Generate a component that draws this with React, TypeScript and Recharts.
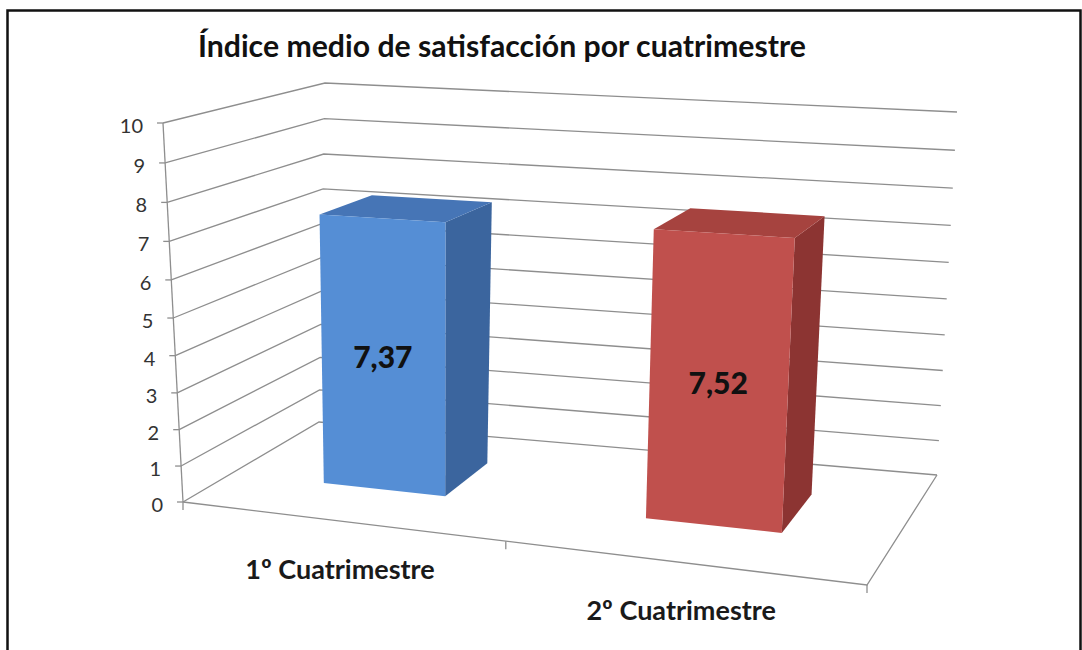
import React from "react";
import {
  BarChart,
  Bar,
  XAxis,
  YAxis,
  CartesianGrid,
  LabelList,
} from "recharts";

// datos
const CATEGORIES = ["1º Cuatrimestre", "2º Cuatrimestre"];
const VALUES = [7.37, 7.52];
const Y_TICKS = [0, 1, 2, 3, 4, 5, 6, 7, 8, 9, 10];
const TITLE = "Índice medio de satisfacción por cuatrimestre";

const data = CATEGORIES.map((name, i) => ({ name, value: VALUES[i] }));

const W = 1082;
const H = 650;
const Y_AXIS_W = 40;
const X_AXIS_H = 30;
// el area de trazado queda en x 100..982, y 100..550
const MARGIN = { top: 100, right: 100, bottom: 100 - X_AXIS_H, left: 100 - Y_AXIS_W };
const PLOT = { x: 100, y: 100, w: W - 200, h: H - 200 };

const FONT = "Lato, 'Open Sans', sans-serif";
const LINE = "#8e8e8e";

// colores de las caras (frontal, lateral, superior)
const FACES = [
  { front: "#558ed5", side: "#3b659e", top: "#4675b6" },
  { front: "#c0504d", side: "#8c3432", top: "#a6433f" },
];

// esquinas de la "caja" 3D en pantalla (camara), frente / fondo
type Pt = [number, number];
const F00: Pt = [183, 502];
const F01: Pt = [163, 123];
const F10: Pt = [867, 585];
const F11: Pt = [892, 156];
const B00: Pt = [319, 422];
const B01: Pt = [325, 83];
const B10: Pt = [937, 475];
const B11: Pt = [957, 112];
const BAR_D0 = 0.363;
const BAR_D1 = 0.73;

const warp = (t: number, k: number) => t / (t + k * (1 - t));

const bil = (a: Pt, b: Pt, c: Pt, d: Pt, u: number, h: number): Pt => {
  const w00 = (1 - u) * (1 - h);
  const w01 = (1 - u) * h;
  const w10 = u * (1 - h);
  const w11 = u * h;
  return [
    a[0] * w00 + b[0] * w01 + c[0] * w10 + d[0] * w11,
    a[1] * w00 + b[1] * w01 + c[1] * w10 + d[1] * w11,
  ];
};

// proyeccion: u (0..1 horizontal), h (0..1 altura), d (0 frente .. 1 fondo)
const project = (u: number, h: number, d: number): Pt => {
  const uu = warp(u, 1.119);
  const hh = warp(h, 1.06);
  const f = bil(F00, F01, F10, F11, uu, hh);
  const b = bil(B00, B01, B10, B11, uu, hh);
  return [f[0] * (1 - d) + b[0] * d, f[1] * (1 - d) + b[1] * d];
};

const toU = (x: number) => (x - PLOT.x) / PLOT.w;
const toH = (y: number) => (PLOT.y + PLOT.h - y) / PLOT.h;
const pts = (list: Pt[]) => list.map((p) => `${p[0]},${p[1]}`).join(" ");

// caja 3D de cada barra
const BoxShape = (props: any) => {
  const { x, y, width, index } = props;
  const u0 = toU(x);
  const u1 = toU(x + width);
  const h = toH(y);
  const c = FACES[index % FACES.length];
  const front = [project(u0, 0, BAR_D0), project(u1, 0, BAR_D0), project(u1, h, BAR_D0), project(u0, h, BAR_D0)];
  const top = [project(u0, h, BAR_D0), project(u1, h, BAR_D0), project(u1, h, BAR_D1), project(u0, h, BAR_D1)];
  const side = [project(u1, 0, BAR_D0), project(u1, 0, BAR_D1), project(u1, h, BAR_D1), project(u1, h, BAR_D0)];
  return (
    <g>
      <polygon points={pts(side)} fill={c.side} />
      <polygon points={pts(top)} fill={c.top} />
      <polygon points={pts(front)} fill={c.front} />
    </g>
  );
};

const ValueLabel = (props: any) => {
  const { x, y, width, value } = props;
  const u = toU(x + width / 2);
  const h = toH(y);
  const p = project(u, h / 2, BAR_D0);
  return (
    <text
      x={p[0]}
      y={p[1] + 11}
      textAnchor="middle"
      fontFamily={FONT}
      fontWeight={900}
      fontSize={30}
      fill="#111"
    >
      {Number(value).toFixed(2).replace(".", ",")}
    </text>
  );
};

// lineas de division: pared lateral + pared del fondo (+ suelo en el 0)
const GridLine = (props: any) => {
  const h = toH(props.y1);
  const a = project(0, h, 0);
  const b = project(0, h, 1);
  const c = project(1, h, 1);
  const isFloor = Math.abs(h) < 1e-6;
  return (
    <g key={props.key ?? `grid-${props.index}`}>
      <polyline points={pts([a, b, c])} fill="none" stroke={LINE} strokeWidth={1.3} />
      {isFloor && (
        <g>
          <polyline
            points={pts([project(0, 0, 0), project(1, 0, 0), project(1, 0, 1)])}
            fill="none"
            stroke={LINE}
            strokeWidth={1.3}
          />
          <line
            x1={project(0, 0, 0)[0]}
            y1={project(0, 0, 0)[1]}
            x2={project(0, 1, 0)[0]}
            y2={project(0, 1, 0)[1]}
            stroke={LINE}
            strokeWidth={1.3}
          />
          {Array.from({ length: CATEGORIES.length + 1 }, (_, i) => {
            const p = project(i / CATEGORIES.length, 0, 0);
            return (
              <line key={i} x1={p[0]} y1={p[1]} x2={p[0]} y2={p[1] + 8} stroke={LINE} strokeWidth={1.3} />
            );
          })}
        </g>
      )}
    </g>
  );
};

const YTick = (props: any) => {
  const { y, payload } = props;
  const p = project(0, toH(y), 0);
  return (
    <g>
      <line x1={p[0] - 6} y1={p[1]} x2={p[0]} y2={p[1]} stroke={LINE} strokeWidth={1.3} />
      <text
        x={p[0] - 20}
        y={p[1] + 10}
        textAnchor="end"
        fontFamily={FONT}
        fontSize={20}
        fill="#333"
      >
        {payload.value}
      </text>
    </g>
  );
};

const XTick = (props: any) => {
  const { x, payload } = props;
  const p = project(toU(x), 0, 0);
  return (
    <text
      x={p[0]}
      y={p[1] + 58}
      textAnchor="middle"
      fontFamily={FONT}
      fontWeight="bold"
      fontSize={27}
      fill="#1a1a1a"
    >
      {payload.value}
    </text>
  );
};

export default function App() {
  return (
    <div style={{ position: "absolute", left: 0, top: 0, width: W, height: H, background: "#fff" }}>
      <BarChart width={W} height={H} data={data} margin={MARGIN} barCategoryGap="30.5%">
        <CartesianGrid vertical={false} horizontal={GridLine} />
        <XAxis
          dataKey="name"
          height={X_AXIS_H}
          axisLine={false}
          tickLine={false}
          interval={0}
          tick={<XTick />}
        />
        <YAxis
          type="number"
          domain={[0, 10]}
          ticks={Y_TICKS}
          width={Y_AXIS_W}
          axisLine={false}
          tickLine={false}
          interval={0}
          tick={<YTick />}
        />
        <Bar dataKey="value" isAnimationActive={false} shape={<BoxShape />}>
          <LabelList dataKey="value" content={<ValueLabel />} />
        </Bar>
      </BarChart>
      <svg
        width={W}
        height={H}
        style={{ position: "absolute", left: 0, top: 0, pointerEvents: "none" }}
      >
        <rect x={7.5} y={10.5} width={1073} height={660} fill="none" stroke="#111" strokeWidth={2.5} />
        <text
          x={502}
          y={57}
          textAnchor="middle"
          fontFamily={FONT}
          fontWeight="bold"
          fontSize={31}
          textLength={608}
          lengthAdjust="spacingAndGlyphs"
          fill="#111"
        >
          {TITLE}
        </text>
      </svg>
    </div>
  );
}
